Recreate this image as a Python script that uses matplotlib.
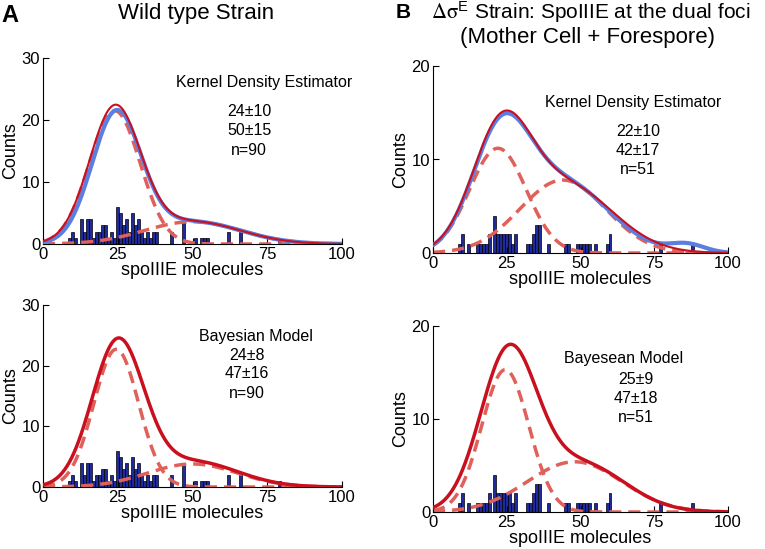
import numpy as np
import matplotlib
matplotlib.use("Agg")
import matplotlib.pyplot as plt

plt.rcParams['font.family'] = ['Liberation Sans', 'DejaVu Sans']
plt.rcParams['mathtext.fontset'] = 'stix'

# histogram data (spoIIIE molecules -> counts)
wt_bins = [9, 10, 11, 13, 14, 15, 16, 17, 18, 19, 20, 21, 22, 23, 24, 25, 26, 27, 28, 29,
           30, 31, 32, 33, 34, 35, 36, 37, 38, 43, 47, 51, 53, 54, 55, 62, 66, 79]
wt_counts = [1, 2, 1, 4, 2, 4, 4, 1, 2, 2, 3, 3, 1, 2, 1, 6, 5, 3, 4, 2,
             5, 3, 4, 2, 1, 2, 1, 2, 2, 2, 4, 1, 1, 1, 1, 2, 2, 1]

ds_bins = [9, 10, 12, 15, 16, 17, 18, 19, 21, 22, 23, 24, 25, 26, 27, 28, 32, 33, 34, 35,
           36, 39, 45, 46, 49, 50, 51, 52, 53, 55, 59, 60, 77, 88]
ds_counts = [1, 2, 1, 1, 1, 1, 1, 2, 4, 2, 2, 2, 2, 2, 1, 2, 1, 1, 2, 3,
             3, 1, 1, 1, 1, 1, 1, 1, 1, 1, 1, 2, 1, 1]

# curves as gaussian pieces: means, sds, peak heights
# wild type, kernel density estimator
wt_kde_means = [24, 50]
wt_kde_sds = [8.5, 16]
wt_kde_peaks = [21.5, 3.6]
wt_kde_blue_means = [24.5, 50]
wt_kde_blue_sds = [8.2, 16]
wt_kde_blue_peaks = [20.6, 3.6]

# delta sigmaE, kernel density estimator
ds_kde_means = [22, 44]
ds_kde_sds = [9.6, 14.5]
ds_kde_peaks = [11.2, 7.8]
ds_kde_red_means = [23, 45]
ds_kde_red_sds = [9.8, 16]
ds_kde_red_peaks = [12.2, 7.2]
ds_kde_blue_means = [23, 45, 86]
ds_kde_blue_sds = [9.8, 15, 6]
ds_kde_blue_peaks = [12.2, 7.3, 0.9]

# wild type, bayesian
wt_bay_means = [24.5, 50]
wt_bay_sds = [7.5, 15]
wt_bay_peaks = [22.7, 3.8]
wt_bay_total_means = [25, 50]
wt_bay_total_sds = [8.6, 15]
wt_bay_total_peaks = [23.5, 4.2]

# delta sigmaE, bayesian
ds_bay_means = [24.5, 48]
ds_bay_sds = [8, 16]
ds_bay_peaks = [15.3, 5.4]
ds_bay_total_means = [25.5, 50]
ds_bay_total_sds = [9.5, 15]
ds_bay_total_peaks = [16.6, 5.2]

xs = np.linspace(0, 100, 401)

BAR = '#1f2a9c'
BLUE = '#5b7fe0'
RED = '#c8101e'
DASH = '#e0605a'


def gauss(m, s, p):
    return p * np.exp(-0.5 * ((xs - m) / s) ** 2)


def mix(means, sds, peaks):
    return sum(gauss(m, s, p) for m, s, p in zip(means, sds, peaks))


def style(ax, ymax):
    ax.set_xlim(0, 100)
    ax.set_ylim(0, ymax)
    ax.set_xticks([0, 25, 50, 75, 100])
    ax.set_yticks(range(0, ymax + 1, 10))
    ax.spines['top'].set_visible(False)
    ax.spines['right'].set_visible(False)
    ax.tick_params(direction='in', length=4, labelsize=12, pad=2)
    ax.set_xlabel('spoIIIE molecules', fontsize=13, labelpad=0)
    ax.set_ylabel('Counts', fontsize=13, labelpad=2)


def panel(ax, bins, counts, means, sds, peaks, ymax):
    ax.bar(bins, counts, width=1, color=BAR, edgecolor='black', linewidth=0.5, zorder=1)
    for m, s, p in zip(means, sds, peaks):
        ax.plot(xs, gauss(m, s, p), color=DASH, lw=2.5, ls=(0, (3.5, 2)), zorder=2)
    style(ax, ymax)


fig = plt.figure(figsize=(7.65, 5.49), dpi=100)
W, H = 765, 549


def add_ax(x0, x1, ytop, ybot):
    return fig.add_axes([x0 / W, 1 - ybot / H, (x1 - x0) / W, (ybot - ytop) / H])


ax1 = add_ax(43, 342, 58, 244)
ax2 = add_ax(43, 342, 305, 487)
ax3 = add_ax(433, 728, 66, 253)
ax4 = add_ax(433, 728, 326, 512)

# A top: kernel density estimator
panel(ax1, wt_bins, wt_counts, wt_kde_means, wt_kde_sds, wt_kde_peaks, 30)
ax1.plot(xs, mix(wt_kde_blue_means, wt_kde_blue_sds, wt_kde_blue_peaks), color=BLUE, lw=3, zorder=3)
ax1.plot(xs, mix(wt_kde_means, wt_kde_sds, wt_kde_peaks), color=RED, lw=1.5, zorder=4)

# A bottom: bayesian
panel(ax2, wt_bins, wt_counts, wt_bay_means, wt_bay_sds, wt_bay_peaks, 30)
ax2.plot(xs, mix(wt_bay_total_means, wt_bay_total_sds, wt_bay_total_peaks), color=RED, lw=2.5, zorder=4)

# B top: kernel density estimator
panel(ax3, ds_bins, ds_counts, ds_kde_means, ds_kde_sds, ds_kde_peaks, 20)
ax3.plot(xs, mix(ds_kde_blue_means, ds_kde_blue_sds, ds_kde_blue_peaks), color=BLUE, lw=3, zorder=3)
ax3.plot(xs, mix(ds_kde_red_means, ds_kde_red_sds, ds_kde_red_peaks), color=RED, lw=1.5, zorder=4)

# B bottom: bayesian
panel(ax4, ds_bins, ds_counts, ds_bay_means, ds_bay_sds, ds_bay_peaks, 20)
ax4.plot(xs, mix(ds_bay_total_means, ds_bay_total_sds, ds_bay_total_peaks), color=RED, lw=2.5, zorder=4)


def ftext(x, y, s, **kw):
    fig.text(x / W, 1 - y / H, s, ha='center', va='center', **kw)


ftext(10, 15, 'A', fontsize=17, fontweight='bold')
ftext(403, 12, 'B', fontsize=15, fontweight='bold')
ftext(196, 14, 'Wild type Strain', fontsize=16)
ftext(591, 12, r'$\mathrm{\Delta\sigma}^{\mathregular{E}}$ Strain: SpoIIIE at the dual foci', fontsize=15)
ftext(587, 37, '(Mother Cell + Forespore)', fontsize=16)

ftext(264, 83, 'Kernel Density Estimator', fontsize=11.5)
for i, s in enumerate(['24±10', '50±15', 'n=90']):
    ftext(249, 111 + 19.5 * i, s, fontsize=11.5)

ftext(633, 103, 'Kernel Density Estimator', fontsize=11.5)
for i, s in enumerate(['22±10', '42±17', 'n=51']):
    ftext(638, 131 + 19.5 * i, s, fontsize=11.5)

ftext(256, 337, 'Bayesian Model', fontsize=11.5)
for i, s in enumerate(['24±8', '47±16', 'n=90']):
    ftext(247, 355 + 19 * i, s, fontsize=11.5)

ftext(624, 358, 'Bayesean Model', fontsize=11.5)
for i, s in enumerate(['25±9', '47±18', 'n=51']):
    ftext(636, 379 + 19.5 * i, s, fontsize=11.5)

fig.savefig('out.png', dpi=100)
